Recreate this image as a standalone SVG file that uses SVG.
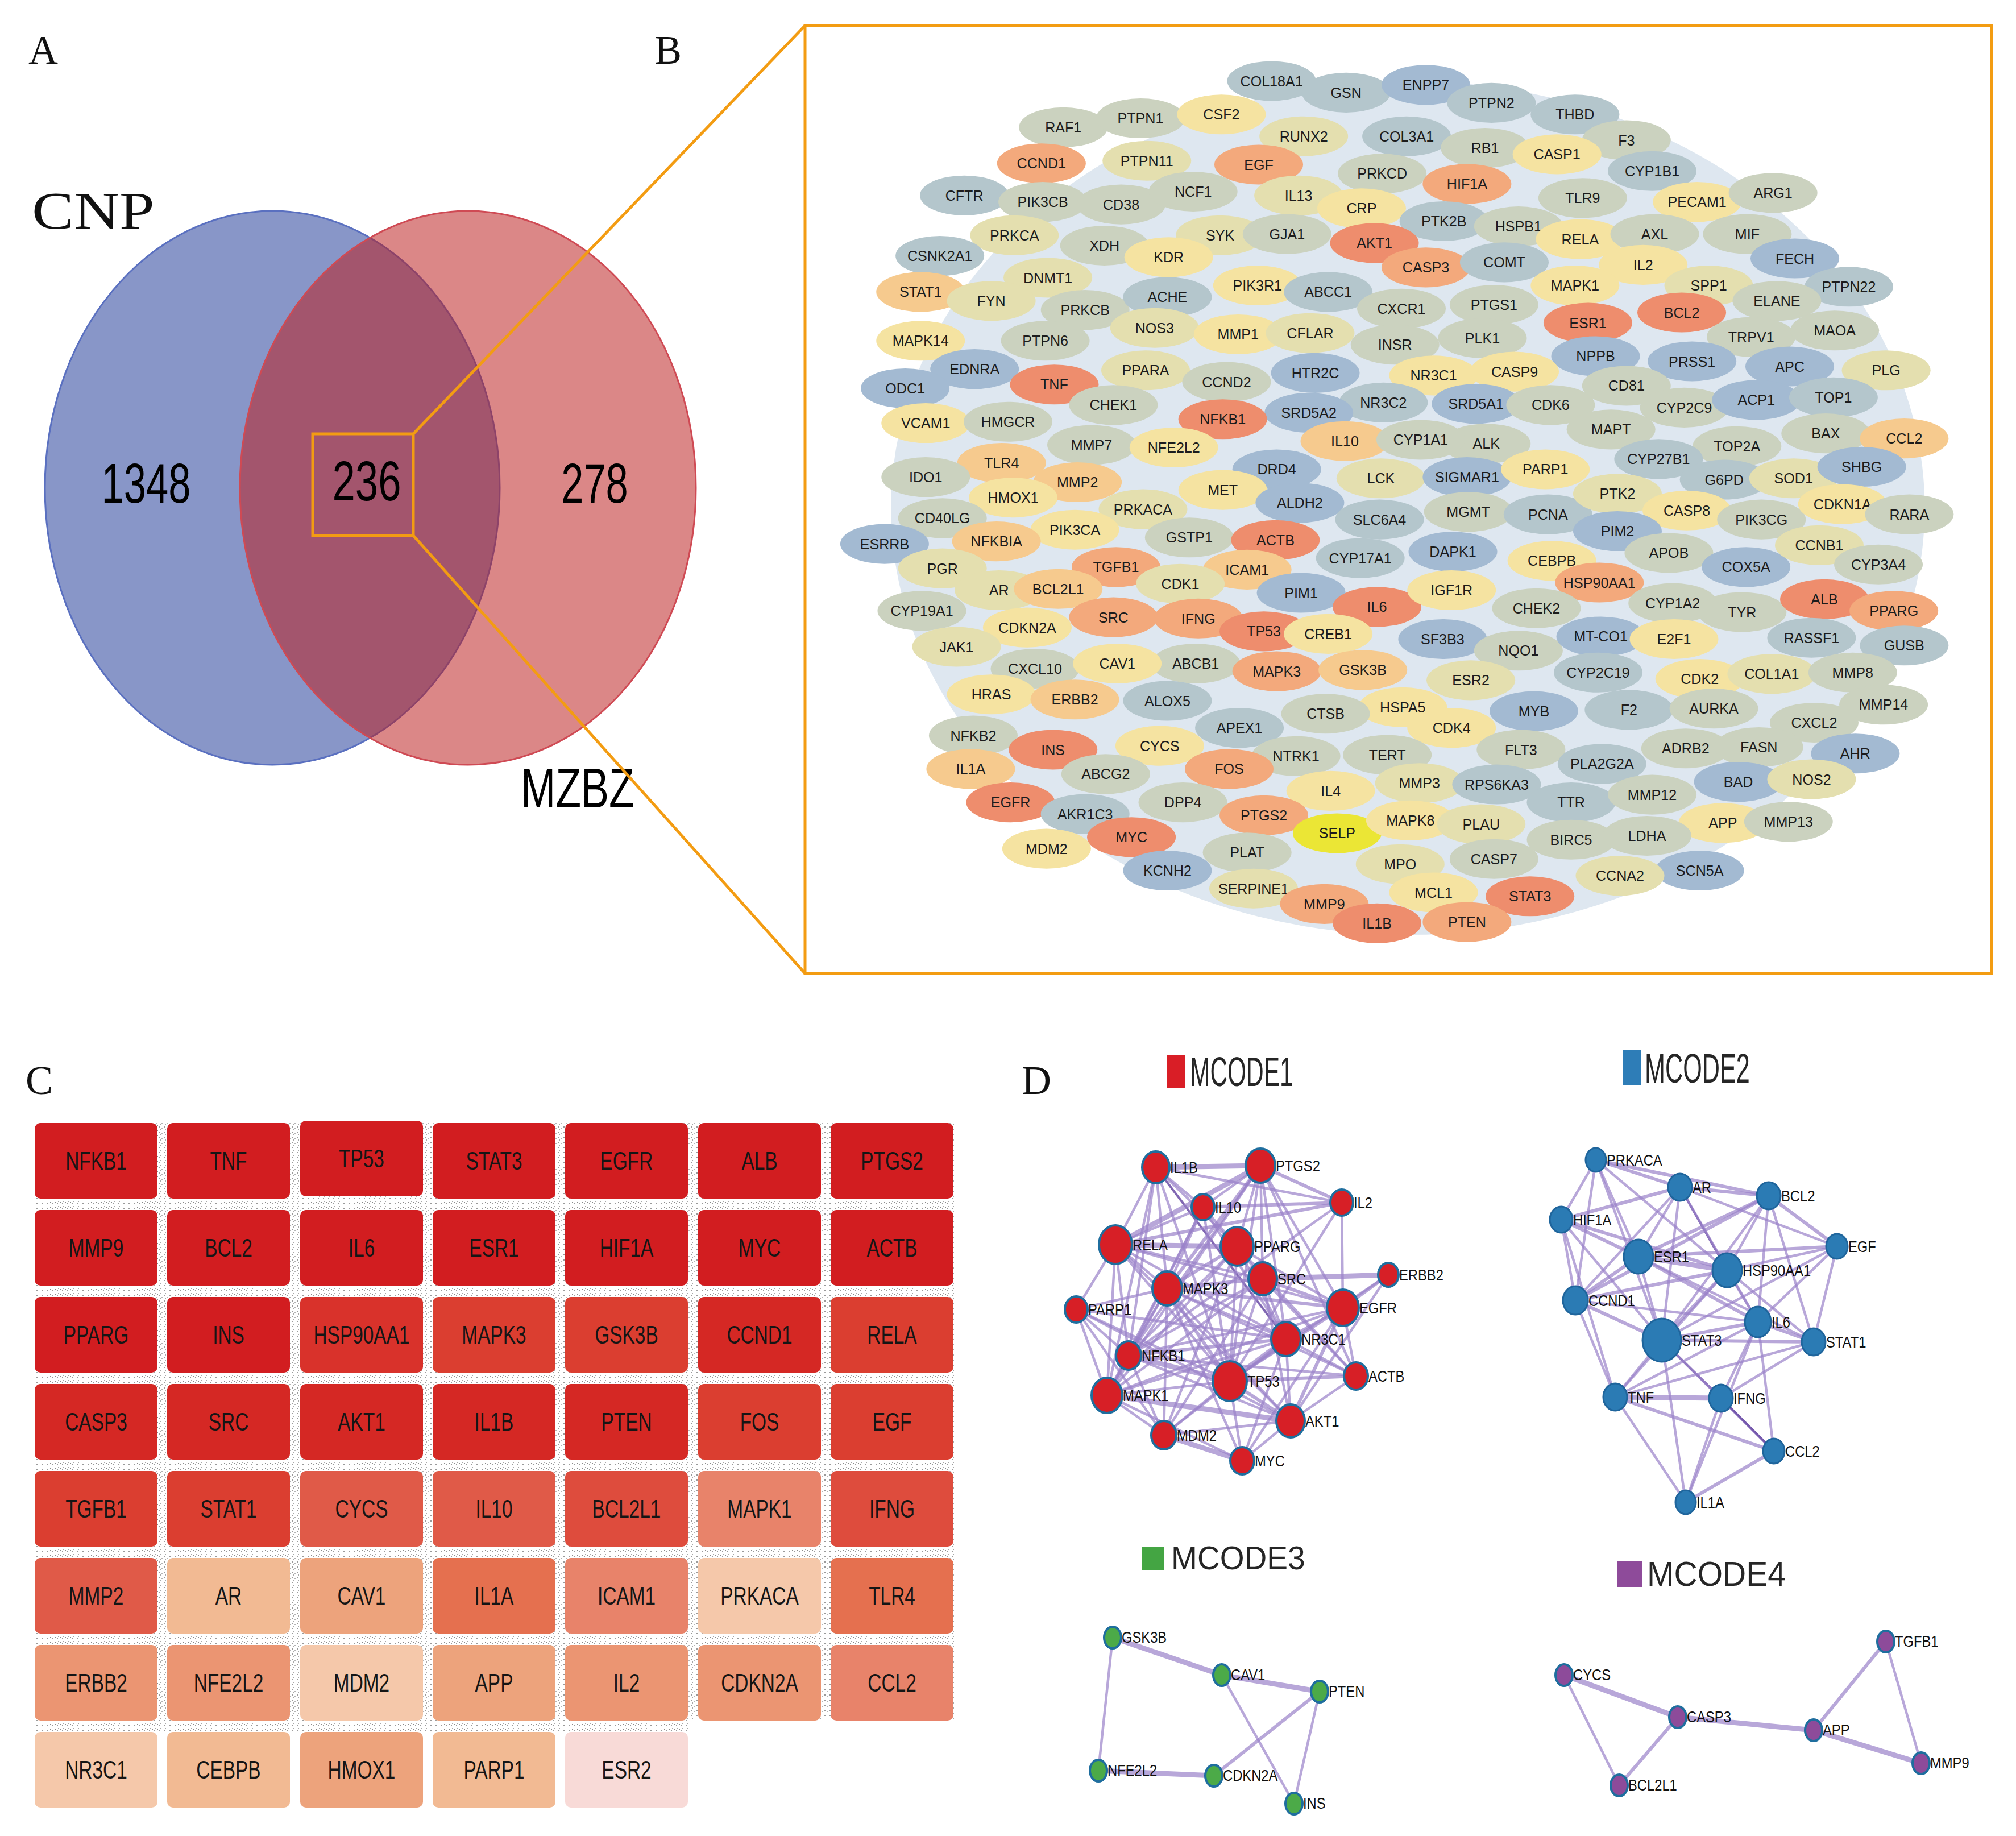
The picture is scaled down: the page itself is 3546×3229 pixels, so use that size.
<svg xmlns="http://www.w3.org/2000/svg" width="3546" height="3229" viewBox="0 0 3546 3229">
<style>
.lbl{font-family:'Liberation Serif','Times New Roman',serif;font-size:72px;fill:#111}
.vn{font-family:'Liberation Sans',Arial,sans-serif;font-size:98px;fill:#000;text-anchor:middle}
.c1{fill:#EE8D6D}.c2{fill:#F3A97C}.c3{fill:#F6CA8E}.c4{fill:#F5E3A1}.c5{fill:#E4DFAF}.c6{fill:#CBD2BF}.c7{fill:#B4C6CC}.c8{fill:#A3BAD2}.c9{fill:#EBE635}
.bt{font-family:'Liberation Sans',Arial,sans-serif;font-size:11.1px;text-anchor:middle;fill:#1c1c1c}
.or{stroke:#F39C12;stroke-width:5;fill:none}
.k1{fill:#D21D20}.k2{fill:#D52824}.k3{fill:#D9322B}.k4{fill:#DB3E30}.k5{fill:#DE4C3D}.k6{fill:#E05A48}.k7{fill:#E5704F}.k8{fill:#E8836A}.k9{fill:#EB9572}.k10{fill:#EDA37C}.k11{fill:#F2BA93}.k12{fill:#F5C8AA}.k13{fill:#F8DAD7}
.ct{font-family:'Liberation Sans',Arial,sans-serif;font-size:44px;text-anchor:middle;fill:#151515}
.mc{font-family:'Liberation Sans',Arial,sans-serif;fill:#262626}
.dl{font-family:'Liberation Sans',Arial,sans-serif;font-size:27px;fill:#111}
.e1{stroke:#9A82C9;stroke-width:4.5;stroke-opacity:.7;stroke-linecap:round}
.e2{stroke:#9A82C9;stroke-width:6;stroke-opacity:.7;stroke-linecap:round}
.e3{stroke:#9A82C9;stroke-width:9;stroke-opacity:.7;stroke-linecap:round}
.ed{stroke:#6A4BA5;stroke-width:4;stroke-opacity:.85;stroke-linecap:round}
.n1{fill:#D71F26;stroke:#1F6E9E;stroke-width:4}
.n2{fill:#2B7BB4;stroke:#1F659C;stroke-width:3}
.n3{fill:#4CAA48;stroke:#1F6E9E;stroke-width:4}
.n4{fill:#8D4B9A;stroke:#1F6E9E;stroke-width:4}
</style>
<defs>
<pattern id="spk" width="9" height="9" patternUnits="userSpaceOnUse">
<rect x="1" y="1" width="2" height="2" fill="#9a9a9a"/><rect x="5" y="4" width="2" height="1" fill="#b5b5b5"/><rect x="3" y="6" width="1" height="2" fill="#a8a8a8"/><rect x="7" y="8" width="1" height="1" fill="#8a8a8a"/>
</pattern>
</defs>
<rect width="3546" height="3229" fill="#fff"/>

<!-- Panel letters -->
<text class="lbl" x="50" y="112">A</text>
<text class="lbl" x="1151" y="112">B</text>
<text class="lbl" x="45" y="1924">C</text>
<text class="lbl" x="1797" y="1924">D</text>

<!-- Panel A: Venn -->
<g id="venn">
<ellipse id="set-CNP" cx="479" cy="858" rx="400" ry="487" fill="#8896C8" stroke="#5A70C0" stroke-width="3"/>
<ellipse id="set-MZBZ" cx="823" cy="858" rx="401" ry="487" fill="rgb(187,29,29)" fill-opacity="0.53" stroke="#CF4A54" stroke-width="3"/>
<text x="56" y="402" font-family="'Liberation Serif','Times New Roman',serif" font-size="94" fill="#111" transform="translate(56 402) scale(1.18 1) translate(-56 -402)">CNP</text>
<text class="vn" transform="translate(257 884) scale(0.72 1)">1348</text>
<text class="vn" transform="translate(645 880) scale(0.74 1)">236</text>
<text class="vn" transform="translate(1046 884) scale(0.72 1)">278</text>
<text class="vn" font-size="95" transform="translate(1016 1420) scale(0.75 1)">MZBZ</text>
<rect class="or" x="550" y="763" width="177" height="179"/>
</g>

<!-- zoom connectors -->
<g id="connectors-zoom">
<line class="or" x1="727" y1="763" x2="1416" y2="45"/>
<line class="or" x1="727" y1="942" x2="1416" y2="1712"/>
</g>

<!-- Panel B -->
<rect class="or" x="1416" y="45" width="2087" height="1667"/>
<g id="panelB" transform="scale(2.2615)">
<ellipse id="edge-cloud" cx="1095" cy="395" rx="402" ry="332" fill="#DEE7F0"/>
<g id="B_COL18A1"><ellipse class="c7" cx="989" cy="63" rx="34.5" ry="15.5"/><text class="bt" x="989" y="67">COL18A1</text></g>
<g id="B_GSN"><ellipse class="c7" cx="1047" cy="72" rx="34.5" ry="15.5"/><text class="bt" x="1047" y="76">GSN</text></g>
<g id="B_ENPP7"><ellipse class="c8" cx="1109" cy="66" rx="34.5" ry="15.5"/><text class="bt" x="1109" y="70">ENPP7</text></g>
<g id="B_PTPN2"><ellipse class="c7" cx="1160" cy="80" rx="34.5" ry="15.5"/><text class="bt" x="1160" y="84">PTPN2</text></g>
<g id="B_THBD"><ellipse class="c7" cx="1225" cy="89" rx="34.5" ry="15.5"/><text class="bt" x="1225" y="93">THBD</text></g>
<g id="B_F3"><ellipse class="c6" cx="1265" cy="109" rx="34.5" ry="15.5"/><text class="bt" x="1265" y="113">F3</text></g>
<g id="B_RAF1"><ellipse class="c6" cx="827" cy="99" rx="34.5" ry="15.5"/><text class="bt" x="827" y="103">RAF1</text></g>
<g id="B_PTPN1"><ellipse class="c6" cx="887" cy="92" rx="34.5" ry="15.5"/><text class="bt" x="887" y="96">PTPN1</text></g>
<g id="B_CSF2"><ellipse class="c4" cx="950" cy="89" rx="34.5" ry="15.5"/><text class="bt" x="950" y="93">CSF2</text></g>
<g id="B_RUNX2"><ellipse class="c5" cx="1014" cy="106" rx="34.5" ry="15.5"/><text class="bt" x="1014" y="110">RUNX2</text></g>
<g id="B_COL3A1"><ellipse class="c7" cx="1094" cy="106" rx="34.5" ry="15.5"/><text class="bt" x="1094" y="110">COL3A1</text></g>
<g id="B_RB1"><ellipse class="c6" cx="1155" cy="115" rx="34.5" ry="15.5"/><text class="bt" x="1155" y="119">RB1</text></g>
<g id="B_CASP1"><ellipse class="c4" cx="1211" cy="120" rx="34.5" ry="15.5"/><text class="bt" x="1211" y="124">CASP1</text></g>
<g id="B_CYP1B1"><ellipse class="c7" cx="1285" cy="133" rx="34.5" ry="15.5"/><text class="bt" x="1285" y="137">CYP1B1</text></g>
<g id="B_CCND1"><ellipse class="c2" cx="810" cy="127" rx="34.5" ry="15.5"/><text class="bt" x="810" y="131">CCND1</text></g>
<g id="B_PTPN11"><ellipse class="c5" cx="892" cy="125" rx="34.5" ry="15.5"/><text class="bt" x="892" y="129">PTPN11</text></g>
<g id="B_EGF"><ellipse class="c2" cx="979" cy="128" rx="34.5" ry="15.5"/><text class="bt" x="979" y="132">EGF</text></g>
<g id="B_PRKCD"><ellipse class="c6" cx="1075" cy="135" rx="34.5" ry="15.5"/><text class="bt" x="1075" y="139">PRKCD</text></g>
<g id="B_HIF1A"><ellipse class="c2" cx="1141" cy="143" rx="34.5" ry="15.5"/><text class="bt" x="1141" y="147">HIF1A</text></g>
<g id="B_CFTR"><ellipse class="c7" cx="750" cy="152" rx="34.5" ry="15.5"/><text class="bt" x="750" y="156">CFTR</text></g>
<g id="B_PIK3CB"><ellipse class="c6" cx="811" cy="157" rx="34.5" ry="15.5"/><text class="bt" x="811" y="161">PIK3CB</text></g>
<g id="B_CD38"><ellipse class="c6" cx="872" cy="159" rx="34.5" ry="15.5"/><text class="bt" x="872" y="163">CD38</text></g>
<g id="B_NCF1"><ellipse class="c6" cx="928" cy="149" rx="34.5" ry="15.5"/><text class="bt" x="928" y="153">NCF1</text></g>
<g id="B_IL13"><ellipse class="c5" cx="1010" cy="152" rx="34.5" ry="15.5"/><text class="bt" x="1010" y="156">IL13</text></g>
<g id="B_CRP"><ellipse class="c4" cx="1059" cy="162" rx="34.5" ry="15.5"/><text class="bt" x="1059" y="166">CRP</text></g>
<g id="B_TLR9"><ellipse class="c6" cx="1231" cy="154" rx="34.5" ry="15.5"/><text class="bt" x="1231" y="158">TLR9</text></g>
<g id="B_PECAM1"><ellipse class="c4" cx="1320" cy="157" rx="34.5" ry="15.5"/><text class="bt" x="1320" y="161">PECAM1</text></g>
<g id="B_ARG1"><ellipse class="c6" cx="1379" cy="150" rx="34.5" ry="15.5"/><text class="bt" x="1379" y="154">ARG1</text></g>
<g id="B_PRKCA"><ellipse class="c5" cx="789" cy="183" rx="34.5" ry="15.5"/><text class="bt" x="789" y="187">PRKCA</text></g>
<g id="B_XDH"><ellipse class="c6" cx="859" cy="191" rx="34.5" ry="15.5"/><text class="bt" x="859" y="195">XDH</text></g>
<g id="B_SYK"><ellipse class="c5" cx="949" cy="183" rx="34.5" ry="15.5"/><text class="bt" x="949" y="187">SYK</text></g>
<g id="B_GJA1"><ellipse class="c6" cx="1001" cy="182" rx="34.5" ry="15.5"/><text class="bt" x="1001" y="186">GJA1</text></g>
<g id="B_PTK2B"><ellipse class="c7" cx="1123" cy="172" rx="34.5" ry="15.5"/><text class="bt" x="1123" y="176">PTK2B</text></g>
<g id="B_HSPB1"><ellipse class="c6" cx="1181" cy="176" rx="34.5" ry="15.5"/><text class="bt" x="1181" y="180">HSPB1</text></g>
<g id="B_AKT1"><ellipse class="c1" cx="1069" cy="189" rx="34.5" ry="15.5"/><text class="bt" x="1069" y="193">AKT1</text></g>
<g id="B_RELA"><ellipse class="c4" cx="1229" cy="186" rx="34.5" ry="15.5"/><text class="bt" x="1229" y="190">RELA</text></g>
<g id="B_AXL"><ellipse class="c6" cx="1287" cy="182" rx="34.5" ry="15.5"/><text class="bt" x="1287" y="186">AXL</text></g>
<g id="B_MIF"><ellipse class="c6" cx="1359" cy="182" rx="34.5" ry="15.5"/><text class="bt" x="1359" y="186">MIF</text></g>
<g id="B_CSNK2A1"><ellipse class="c7" cx="731" cy="199" rx="34.5" ry="15.5"/><text class="bt" x="731" y="203">CSNK2A1</text></g>
<g id="B_KDR"><ellipse class="c4" cx="909" cy="200" rx="34.5" ry="15.5"/><text class="bt" x="909" y="204">KDR</text></g>
<g id="B_CASP3"><ellipse class="c2" cx="1109" cy="208" rx="34.5" ry="15.5"/><text class="bt" x="1109" y="212">CASP3</text></g>
<g id="B_COMT"><ellipse class="c7" cx="1170" cy="204" rx="34.5" ry="15.5"/><text class="bt" x="1170" y="208">COMT</text></g>
<g id="B_FECH"><ellipse class="c8" cx="1396" cy="201" rx="34.5" ry="15.5"/><text class="bt" x="1396" y="205">FECH</text></g>
<g id="B_IL2"><ellipse class="c4" cx="1278" cy="206" rx="34.5" ry="15.5"/><text class="bt" x="1278" y="210">IL2</text></g>
<g id="B_DNMT1"><ellipse class="c5" cx="815" cy="216" rx="34.5" ry="15.5"/><text class="bt" x="815" y="220">DNMT1</text></g>
<g id="B_PIK3R1"><ellipse class="c4" cx="978" cy="222" rx="34.5" ry="15.5"/><text class="bt" x="978" y="226">PIK3R1</text></g>
<g id="B_ABCC1"><ellipse class="c7" cx="1033" cy="227" rx="34.5" ry="15.5"/><text class="bt" x="1033" y="231">ABCC1</text></g>
<g id="B_MAPK1"><ellipse class="c4" cx="1225" cy="222" rx="34.5" ry="15.5"/><text class="bt" x="1225" y="226">MAPK1</text></g>
<g id="B_SPP1"><ellipse class="c5" cx="1329" cy="222" rx="34.5" ry="15.5"/><text class="bt" x="1329" y="226">SPP1</text></g>
<g id="B_PTPN22"><ellipse class="c7" cx="1438" cy="223" rx="34.5" ry="15.5"/><text class="bt" x="1438" y="227">PTPN22</text></g>
<g id="B_CXCR1"><ellipse class="c6" cx="1090" cy="240" rx="34.5" ry="15.5"/><text class="bt" x="1090" y="244">CXCR1</text></g>
<g id="B_PTGS1"><ellipse class="c6" cx="1162" cy="237" rx="34.5" ry="15.5"/><text class="bt" x="1162" y="241">PTGS1</text></g>
<g id="B_STAT1"><ellipse class="c3" cx="716" cy="227" rx="34.5" ry="15.5"/><text class="bt" x="716" y="231">STAT1</text></g>
<g id="B_FYN"><ellipse class="c5" cx="771" cy="234" rx="34.5" ry="15.5"/><text class="bt" x="771" y="238">FYN</text></g>
<g id="B_PRKCB"><ellipse class="c6" cx="844" cy="241" rx="34.5" ry="15.5"/><text class="bt" x="844" y="245">PRKCB</text></g>
<g id="B_ACHE"><ellipse class="c7" cx="908" cy="231" rx="34.5" ry="15.5"/><text class="bt" x="908" y="235">ACHE</text></g>
<g id="B_ESR1"><ellipse class="c1" cx="1235" cy="251" rx="34.5" ry="15.5"/><text class="bt" x="1235" y="255">ESR1</text></g>
<g id="B_BCL2"><ellipse class="c1" cx="1308" cy="243" rx="34.5" ry="15.5"/><text class="bt" x="1308" y="247">BCL2</text></g>
<g id="B_ELANE"><ellipse class="c6" cx="1382" cy="234" rx="34.5" ry="15.5"/><text class="bt" x="1382" y="238">ELANE</text></g>
<g id="B_MAPK14"><ellipse class="c4" cx="716" cy="265" rx="34.5" ry="15.5"/><text class="bt" x="716" y="269">MAPK14</text></g>
<g id="B_PTPN6"><ellipse class="c6" cx="813" cy="265" rx="34.5" ry="15.5"/><text class="bt" x="813" y="269">PTPN6</text></g>
<g id="B_NOS3"><ellipse class="c5" cx="898" cy="255" rx="34.5" ry="15.5"/><text class="bt" x="898" y="259">NOS3</text></g>
<g id="B_MMP1"><ellipse class="c4" cx="963" cy="260" rx="34.5" ry="15.5"/><text class="bt" x="963" y="264">MMP1</text></g>
<g id="B_CFLAR"><ellipse class="c5" cx="1019" cy="259" rx="34.5" ry="15.5"/><text class="bt" x="1019" y="263">CFLAR</text></g>
<g id="B_INSR"><ellipse class="c6" cx="1085" cy="268" rx="34.5" ry="15.5"/><text class="bt" x="1085" y="272">INSR</text></g>
<g id="B_PLK1"><ellipse class="c6" cx="1153" cy="263" rx="34.5" ry="15.5"/><text class="bt" x="1153" y="267">PLK1</text></g>
<g id="B_NPPB"><ellipse class="c8" cx="1241" cy="277" rx="34.5" ry="15.5"/><text class="bt" x="1241" y="281">NPPB</text></g>
<g id="B_TRPV1"><ellipse class="c6" cx="1362" cy="262" rx="34.5" ry="15.5"/><text class="bt" x="1362" y="266">TRPV1</text></g>
<g id="B_MAOA"><ellipse class="c6" cx="1427" cy="257" rx="34.5" ry="15.5"/><text class="bt" x="1427" y="261">MAOA</text></g>
<g id="B_EDNRA"><ellipse class="c8" cx="758" cy="287" rx="34.5" ry="15.5"/><text class="bt" x="758" y="291">EDNRA</text></g>
<g id="B_ODC1"><ellipse class="c8" cx="704" cy="302" rx="34.5" ry="15.5"/><text class="bt" x="704" y="306">ODC1</text></g>
<g id="B_TNF"><ellipse class="c1" cx="820" cy="299" rx="34.5" ry="15.5"/><text class="bt" x="820" y="303">TNF</text></g>
<g id="B_PPARA"><ellipse class="c5" cx="891" cy="288" rx="34.5" ry="15.5"/><text class="bt" x="891" y="292">PPARA</text></g>
<g id="B_HTR2C"><ellipse class="c8" cx="1023" cy="290" rx="34.5" ry="15.5"/><text class="bt" x="1023" y="294">HTR2C</text></g>
<g id="B_NR3C1"><ellipse class="c4" cx="1115" cy="292" rx="34.5" ry="15.5"/><text class="bt" x="1115" y="296">NR3C1</text></g>
<g id="B_CASP9"><ellipse class="c4" cx="1178" cy="289" rx="34.5" ry="15.5"/><text class="bt" x="1178" y="293">CASP9</text></g>
<g id="B_PRSS1"><ellipse class="c8" cx="1316" cy="281" rx="34.5" ry="15.5"/><text class="bt" x="1316" y="285">PRSS1</text></g>
<g id="B_APC"><ellipse class="c8" cx="1392" cy="285" rx="34.5" ry="15.5"/><text class="bt" x="1392" y="289">APC</text></g>
<g id="B_PLG"><ellipse class="c5" cx="1467" cy="288" rx="34.5" ry="15.5"/><text class="bt" x="1467" y="292">PLG</text></g>
<g id="B_CD81"><ellipse class="c6" cx="1265" cy="300" rx="34.5" ry="15.5"/><text class="bt" x="1265" y="304">CD81</text></g>
<g id="B_CCND2"><ellipse class="c6" cx="954" cy="297" rx="34.5" ry="15.5"/><text class="bt" x="954" y="301">CCND2</text></g>
<g id="B_VCAM1"><ellipse class="c4" cx="720" cy="329" rx="34.5" ry="15.5"/><text class="bt" x="720" y="333">VCAM1</text></g>
<g id="B_HMGCR"><ellipse class="c6" cx="784" cy="328" rx="34.5" ry="15.5"/><text class="bt" x="784" y="332">HMGCR</text></g>
<g id="B_CHEK1"><ellipse class="c6" cx="866" cy="315" rx="34.5" ry="15.5"/><text class="bt" x="866" y="319">CHEK1</text></g>
<g id="B_NR3C2"><ellipse class="c7" cx="1076" cy="313" rx="34.5" ry="15.5"/><text class="bt" x="1076" y="317">NR3C2</text></g>
<g id="B_SRD5A1"><ellipse class="c8" cx="1148" cy="314" rx="34.5" ry="15.5"/><text class="bt" x="1148" y="318">SRD5A1</text></g>
<g id="B_CDK6"><ellipse class="c6" cx="1206" cy="315" rx="34.5" ry="15.5"/><text class="bt" x="1206" y="319">CDK6</text></g>
<g id="B_SRD5A2"><ellipse class="c8" cx="1018" cy="321" rx="34.5" ry="15.5"/><text class="bt" x="1018" y="325">SRD5A2</text></g>
<g id="B_NFKB1"><ellipse class="c1" cx="951" cy="326" rx="34.5" ry="15.5"/><text class="bt" x="951" y="330">NFKB1</text></g>
<g id="B_CYP2C9"><ellipse class="c6" cx="1310" cy="317" rx="34.5" ry="15.5"/><text class="bt" x="1310" y="321">CYP2C9</text></g>
<g id="B_ACP1"><ellipse class="c8" cx="1366" cy="311" rx="34.5" ry="15.5"/><text class="bt" x="1366" y="315">ACP1</text></g>
<g id="B_TOP1"><ellipse class="c7" cx="1426" cy="309" rx="34.5" ry="15.5"/><text class="bt" x="1426" y="313">TOP1</text></g>
<g id="B_MMP7"><ellipse class="c6" cx="849" cy="346" rx="34.5" ry="15.5"/><text class="bt" x="849" y="350">MMP7</text></g>
<g id="B_NFE2L2"><ellipse class="c4" cx="913" cy="348" rx="34.5" ry="15.5"/><text class="bt" x="913" y="352">NFE2L2</text></g>
<g id="B_ALK"><ellipse class="c6" cx="1156" cy="345" rx="34.5" ry="15.5"/><text class="bt" x="1156" y="349">ALK</text></g>
<g id="B_IL10"><ellipse class="c3" cx="1046" cy="343" rx="34.5" ry="15.5"/><text class="bt" x="1046" y="347">IL10</text></g>
<g id="B_CYP1A1"><ellipse class="c6" cx="1105" cy="342" rx="34.5" ry="15.5"/><text class="bt" x="1105" y="346">CYP1A1</text></g>
<g id="B_MAPT"><ellipse class="c6" cx="1253" cy="334" rx="34.5" ry="15.5"/><text class="bt" x="1253" y="338">MAPT</text></g>
<g id="B_BAX"><ellipse class="c6" cx="1420" cy="337" rx="34.5" ry="15.5"/><text class="bt" x="1420" y="341">BAX</text></g>
<g id="B_CCL2"><ellipse class="c3" cx="1481" cy="341" rx="34.5" ry="15.5"/><text class="bt" x="1481" y="345">CCL2</text></g>
<g id="B_TOP2A"><ellipse class="c6" cx="1351" cy="347" rx="34.5" ry="15.5"/><text class="bt" x="1351" y="351">TOP2A</text></g>
<g id="B_TLR4"><ellipse class="c3" cx="779" cy="360" rx="34.5" ry="15.5"/><text class="bt" x="779" y="364">TLR4</text></g>
<g id="B_IDO1"><ellipse class="c6" cx="720" cy="371" rx="34.5" ry="15.5"/><text class="bt" x="720" y="375">IDO1</text></g>
<g id="B_MMP2"><ellipse class="c3" cx="838" cy="375" rx="34.5" ry="15.5"/><text class="bt" x="838" y="379">MMP2</text></g>
<g id="B_DRD4"><ellipse class="c8" cx="993" cy="365" rx="34.5" ry="15.5"/><text class="bt" x="993" y="369">DRD4</text></g>
<g id="B_MET"><ellipse class="c4" cx="951" cy="381" rx="34.5" ry="15.5"/><text class="bt" x="951" y="385">MET</text></g>
<g id="B_LCK"><ellipse class="c5" cx="1074" cy="372" rx="34.5" ry="15.5"/><text class="bt" x="1074" y="376">LCK</text></g>
<g id="B_SIGMAR1"><ellipse class="c8" cx="1141" cy="371" rx="34.5" ry="15.5"/><text class="bt" x="1141" y="375">SIGMAR1</text></g>
<g id="B_PARP1"><ellipse class="c4" cx="1202" cy="365" rx="34.5" ry="15.5"/><text class="bt" x="1202" y="369">PARP1</text></g>
<g id="B_CYP27B1"><ellipse class="c7" cx="1290" cy="357" rx="34.5" ry="15.5"/><text class="bt" x="1290" y="361">CYP27B1</text></g>
<g id="B_G6PD"><ellipse class="c7" cx="1341" cy="373" rx="34.5" ry="15.5"/><text class="bt" x="1341" y="377">G6PD</text></g>
<g id="B_SOD1"><ellipse class="c5" cx="1395" cy="372" rx="34.5" ry="15.5"/><text class="bt" x="1395" y="376">SOD1</text></g>
<g id="B_SHBG"><ellipse class="c8" cx="1448" cy="363" rx="34.5" ry="15.5"/><text class="bt" x="1448" y="367">SHBG</text></g>
<g id="B_HMOX1"><ellipse class="c4" cx="788" cy="387" rx="34.5" ry="15.5"/><text class="bt" x="788" y="391">HMOX1</text></g>
<g id="B_PRKACA"><ellipse class="c5" cx="889" cy="396" rx="34.5" ry="15.5"/><text class="bt" x="889" y="400">PRKACA</text></g>
<g id="B_ALDH2"><ellipse class="c8" cx="1011" cy="391" rx="34.5" ry="15.5"/><text class="bt" x="1011" y="395">ALDH2</text></g>
<g id="B_SLC6A4"><ellipse class="c7" cx="1073" cy="404" rx="34.5" ry="15.5"/><text class="bt" x="1073" y="408">SLC6A4</text></g>
<g id="B_MGMT"><ellipse class="c6" cx="1142" cy="398" rx="34.5" ry="15.5"/><text class="bt" x="1142" y="402">MGMT</text></g>
<g id="B_PCNA"><ellipse class="c7" cx="1204" cy="400" rx="34.5" ry="15.5"/><text class="bt" x="1204" y="404">PCNA</text></g>
<g id="B_PTK2"><ellipse class="c5" cx="1258" cy="384" rx="34.5" ry="15.5"/><text class="bt" x="1258" y="388">PTK2</text></g>
<g id="B_CASP8"><ellipse class="c4" cx="1312" cy="397" rx="34.5" ry="15.5"/><text class="bt" x="1312" y="401">CASP8</text></g>
<g id="B_PIK3CG"><ellipse class="c6" cx="1370" cy="404" rx="34.5" ry="15.5"/><text class="bt" x="1370" y="408">PIK3CG</text></g>
<g id="B_CDKN1A"><ellipse class="c4" cx="1433" cy="392" rx="34.5" ry="15.5"/><text class="bt" x="1433" y="396">CDKN1A</text></g>
<g id="B_RARA"><ellipse class="c6" cx="1485" cy="400" rx="34.5" ry="15.5"/><text class="bt" x="1485" y="404">RARA</text></g>
<g id="B_CD40LG"><ellipse class="c6" cx="733" cy="403" rx="34.5" ry="15.5"/><text class="bt" x="733" y="407">CD40LG</text></g>
<g id="B_PIK3CA"><ellipse class="c4" cx="836" cy="412" rx="34.5" ry="15.5"/><text class="bt" x="836" y="416">PIK3CA</text></g>
<g id="B_ESRRB"><ellipse class="c8" cx="688" cy="423" rx="34.5" ry="15.5"/><text class="bt" x="688" y="427">ESRRB</text></g>
<g id="B_NFKBIA"><ellipse class="c3" cx="775" cy="421" rx="34.5" ry="15.5"/><text class="bt" x="775" y="425">NFKBIA</text></g>
<g id="B_GSTP1"><ellipse class="c6" cx="925" cy="418" rx="34.5" ry="15.5"/><text class="bt" x="925" y="422">GSTP1</text></g>
<g id="B_ACTB"><ellipse class="c1" cx="992" cy="420" rx="34.5" ry="15.5"/><text class="bt" x="992" y="424">ACTB</text></g>
<g id="B_PIM2"><ellipse class="c8" cx="1258" cy="413" rx="34.5" ry="15.5"/><text class="bt" x="1258" y="417">PIM2</text></g>
<g id="B_APOB"><ellipse class="c6" cx="1298" cy="430" rx="34.5" ry="15.5"/><text class="bt" x="1298" y="434">APOB</text></g>
<g id="B_COX5A"><ellipse class="c8" cx="1358" cy="441" rx="34.5" ry="15.5"/><text class="bt" x="1358" y="445">COX5A</text></g>
<g id="B_CCNB1"><ellipse class="c5" cx="1415" cy="424" rx="34.5" ry="15.5"/><text class="bt" x="1415" y="428">CCNB1</text></g>
<g id="B_CYP3A4"><ellipse class="c6" cx="1461" cy="439" rx="34.5" ry="15.5"/><text class="bt" x="1461" y="443">CYP3A4</text></g>
<g id="B_PGR"><ellipse class="c5" cx="733" cy="442" rx="34.5" ry="15.5"/><text class="bt" x="733" y="446">PGR</text></g>
<g id="B_TGFB1"><ellipse class="c2" cx="868" cy="441" rx="34.5" ry="15.5"/><text class="bt" x="868" y="445">TGFB1</text></g>
<g id="B_ICAM1"><ellipse class="c3" cx="970" cy="443" rx="34.5" ry="15.5"/><text class="bt" x="970" y="447">ICAM1</text></g>
<g id="B_CYP17A1"><ellipse class="c7" cx="1058" cy="434" rx="34.5" ry="15.5"/><text class="bt" x="1058" y="438">CYP17A1</text></g>
<g id="B_DAPK1"><ellipse class="c8" cx="1130" cy="429" rx="34.5" ry="15.5"/><text class="bt" x="1130" y="433">DAPK1</text></g>
<g id="B_CEBPB"><ellipse class="c4" cx="1207" cy="436" rx="34.5" ry="15.5"/><text class="bt" x="1207" y="440">CEBPB</text></g>
<g id="B_HSP90AA1"><ellipse class="c2" cx="1244" cy="453" rx="34.5" ry="15.5"/><text class="bt" x="1244" y="457">HSP90AA1</text></g>
<g id="B_AR"><ellipse class="c5" cx="777" cy="459" rx="34.5" ry="15.5"/><text class="bt" x="777" y="463">AR</text></g>
<g id="B_BCL2L1"><ellipse class="c3" cx="823" cy="458" rx="34.5" ry="15.5"/><text class="bt" x="823" y="462">BCL2L1</text></g>
<g id="B_CDK1"><ellipse class="c5" cx="918" cy="454" rx="34.5" ry="15.5"/><text class="bt" x="918" y="458">CDK1</text></g>
<g id="B_PIM1"><ellipse class="c8" cx="1012" cy="461" rx="34.5" ry="15.5"/><text class="bt" x="1012" y="465">PIM1</text></g>
<g id="B_IL6"><ellipse class="c1" cx="1071" cy="472" rx="34.5" ry="15.5"/><text class="bt" x="1071" y="476">IL6</text></g>
<g id="B_IGF1R"><ellipse class="c4" cx="1129" cy="459" rx="34.5" ry="15.5"/><text class="bt" x="1129" y="463">IGF1R</text></g>
<g id="B_CHEK2"><ellipse class="c6" cx="1195" cy="473" rx="34.5" ry="15.5"/><text class="bt" x="1195" y="477">CHEK2</text></g>
<g id="B_CYP1A2"><ellipse class="c6" cx="1301" cy="469" rx="34.5" ry="15.5"/><text class="bt" x="1301" y="473">CYP1A2</text></g>
<g id="B_TYR"><ellipse class="c6" cx="1355" cy="476" rx="34.5" ry="15.5"/><text class="bt" x="1355" y="480">TYR</text></g>
<g id="B_ALB"><ellipse class="c1" cx="1419" cy="466" rx="34.5" ry="15.5"/><text class="bt" x="1419" y="470">ALB</text></g>
<g id="B_PPARG"><ellipse class="c2" cx="1473" cy="475" rx="34.5" ry="15.5"/><text class="bt" x="1473" y="479">PPARG</text></g>
<g id="B_CYP19A1"><ellipse class="c6" cx="717" cy="475" rx="34.5" ry="15.5"/><text class="bt" x="717" y="479">CYP19A1</text></g>
<g id="B_SRC"><ellipse class="c2" cx="866" cy="480" rx="34.5" ry="15.5"/><text class="bt" x="866" y="484">SRC</text></g>
<g id="B_IFNG"><ellipse class="c2" cx="932" cy="481" rx="34.5" ry="15.5"/><text class="bt" x="932" y="485">IFNG</text></g>
<g id="B_TP53"><ellipse class="c1" cx="983" cy="491" rx="34.5" ry="15.5"/><text class="bt" x="983" y="495">TP53</text></g>
<g id="B_CREB1"><ellipse class="c4" cx="1033" cy="493" rx="34.5" ry="15.5"/><text class="bt" x="1033" y="497">CREB1</text></g>
<g id="B_SF3B3"><ellipse class="c8" cx="1122" cy="497" rx="34.5" ry="15.5"/><text class="bt" x="1122" y="501">SF3B3</text></g>
<g id="B_NQO1"><ellipse class="c6" cx="1181" cy="506" rx="34.5" ry="15.5"/><text class="bt" x="1181" y="510">NQO1</text></g>
<g id="B_MT-CO1"><ellipse class="c8" cx="1245" cy="495" rx="34.5" ry="15.5"/><text class="bt" x="1245" y="499">MT-CO1</text></g>
<g id="B_E2F1"><ellipse class="c4" cx="1302" cy="497" rx="34.5" ry="15.5"/><text class="bt" x="1302" y="501">E2F1</text></g>
<g id="B_RASSF1"><ellipse class="c7" cx="1409" cy="496" rx="34.5" ry="15.5"/><text class="bt" x="1409" y="500">RASSF1</text></g>
<g id="B_GUSB"><ellipse class="c7" cx="1481" cy="502" rx="34.5" ry="15.5"/><text class="bt" x="1481" y="506">GUSB</text></g>
<g id="B_CDKN2A"><ellipse class="c4" cx="799" cy="488" rx="34.5" ry="15.5"/><text class="bt" x="799" y="492">CDKN2A</text></g>
<g id="B_JAK1"><ellipse class="c5" cx="744" cy="503" rx="34.5" ry="15.5"/><text class="bt" x="744" y="507">JAK1</text></g>
<g id="B_ABCB1"><ellipse class="c6" cx="930" cy="516" rx="34.5" ry="15.5"/><text class="bt" x="930" y="520">ABCB1</text></g>
<g id="B_MAPK3"><ellipse class="c2" cx="993" cy="522" rx="34.5" ry="15.5"/><text class="bt" x="993" y="526">MAPK3</text></g>
<g id="B_GSK3B"><ellipse class="c3" cx="1060" cy="521" rx="34.5" ry="15.5"/><text class="bt" x="1060" y="525">GSK3B</text></g>
<g id="B_ESR2"><ellipse class="c5" cx="1144" cy="529" rx="34.5" ry="15.5"/><text class="bt" x="1144" y="533">ESR2</text></g>
<g id="B_CYP2C19"><ellipse class="c7" cx="1243" cy="523" rx="34.5" ry="15.5"/><text class="bt" x="1243" y="527">CYP2C19</text></g>
<g id="B_CDK2"><ellipse class="c4" cx="1322" cy="528" rx="34.5" ry="15.5"/><text class="bt" x="1322" y="532">CDK2</text></g>
<g id="B_COL1A1"><ellipse class="c5" cx="1378" cy="524" rx="34.5" ry="15.5"/><text class="bt" x="1378" y="528">COL1A1</text></g>
<g id="B_MMP8"><ellipse class="c6" cx="1441" cy="523" rx="34.5" ry="15.5"/><text class="bt" x="1441" y="527">MMP8</text></g>
<g id="B_CXCL10"><ellipse class="c6" cx="805" cy="520" rx="34.5" ry="15.5"/><text class="bt" x="805" y="524">CXCL10</text></g>
<g id="B_CAV1"><ellipse class="c4" cx="869" cy="516" rx="34.5" ry="15.5"/><text class="bt" x="869" y="520">CAV1</text></g>
<g id="B_HRAS"><ellipse class="c4" cx="771" cy="540" rx="34.5" ry="15.5"/><text class="bt" x="771" y="544">HRAS</text></g>
<g id="B_ERBB2"><ellipse class="c3" cx="836" cy="544" rx="34.5" ry="15.5"/><text class="bt" x="836" y="548">ERBB2</text></g>
<g id="B_ALOX5"><ellipse class="c7" cx="908" cy="545" rx="34.5" ry="15.5"/><text class="bt" x="908" y="549">ALOX5</text></g>
<g id="B_HSPA5"><ellipse class="c4" cx="1091" cy="550" rx="34.5" ry="15.5"/><text class="bt" x="1091" y="554">HSPA5</text></g>
<g id="B_CTSB"><ellipse class="c6" cx="1031" cy="555" rx="34.5" ry="15.5"/><text class="bt" x="1031" y="559">CTSB</text></g>
<g id="B_MYB"><ellipse class="c8" cx="1193" cy="553" rx="34.5" ry="15.5"/><text class="bt" x="1193" y="557">MYB</text></g>
<g id="B_F2"><ellipse class="c7" cx="1267" cy="552" rx="34.5" ry="15.5"/><text class="bt" x="1267" y="556">F2</text></g>
<g id="B_AURKA"><ellipse class="c6" cx="1333" cy="551" rx="34.5" ry="15.5"/><text class="bt" x="1333" y="555">AURKA</text></g>
<g id="B_MMP14"><ellipse class="c6" cx="1465" cy="548" rx="34.5" ry="15.5"/><text class="bt" x="1465" y="552">MMP14</text></g>
<g id="B_CXCL2"><ellipse class="c6" cx="1411" cy="562" rx="34.5" ry="15.5"/><text class="bt" x="1411" y="566">CXCL2</text></g>
<g id="B_APEX1"><ellipse class="c7" cx="964" cy="566" rx="34.5" ry="15.5"/><text class="bt" x="964" y="570">APEX1</text></g>
<g id="B_CDK4"><ellipse class="c4" cx="1129" cy="566" rx="34.5" ry="15.5"/><text class="bt" x="1129" y="570">CDK4</text></g>
<g id="B_NFKB2"><ellipse class="c6" cx="757" cy="572" rx="34.5" ry="15.5"/><text class="bt" x="757" y="576">NFKB2</text></g>
<g id="B_INS"><ellipse class="c1" cx="819" cy="583" rx="34.5" ry="15.5"/><text class="bt" x="819" y="587">INS</text></g>
<g id="B_CYCS"><ellipse class="c4" cx="902" cy="580" rx="34.5" ry="15.5"/><text class="bt" x="902" y="584">CYCS</text></g>
<g id="B_NTRK1"><ellipse class="c6" cx="1008" cy="588" rx="34.5" ry="15.5"/><text class="bt" x="1008" y="592">NTRK1</text></g>
<g id="B_TERT"><ellipse class="c6" cx="1079" cy="587" rx="34.5" ry="15.5"/><text class="bt" x="1079" y="591">TERT</text></g>
<g id="B_FLT3"><ellipse class="c6" cx="1183" cy="583" rx="34.5" ry="15.5"/><text class="bt" x="1183" y="587">FLT3</text></g>
<g id="B_ADRB2"><ellipse class="c6" cx="1311" cy="582" rx="34.5" ry="15.5"/><text class="bt" x="1311" y="586">ADRB2</text></g>
<g id="B_FASN"><ellipse class="c6" cx="1368" cy="581" rx="34.5" ry="15.5"/><text class="bt" x="1368" y="585">FASN</text></g>
<g id="B_AHR"><ellipse class="c8" cx="1443" cy="586" rx="34.5" ry="15.5"/><text class="bt" x="1443" y="590">AHR</text></g>
<g id="B_IL1A"><ellipse class="c3" cx="755" cy="598" rx="34.5" ry="15.5"/><text class="bt" x="755" y="602">IL1A</text></g>
<g id="B_ABCG2"><ellipse class="c6" cx="860" cy="602" rx="34.5" ry="15.5"/><text class="bt" x="860" y="606">ABCG2</text></g>
<g id="B_FOS"><ellipse class="c2" cx="956" cy="598" rx="34.5" ry="15.5"/><text class="bt" x="956" y="602">FOS</text></g>
<g id="B_PLA2G2A"><ellipse class="c7" cx="1246" cy="594" rx="34.5" ry="15.5"/><text class="bt" x="1246" y="598">PLA2G2A</text></g>
<g id="B_IL4"><ellipse class="c4" cx="1035" cy="615" rx="34.5" ry="15.5"/><text class="bt" x="1035" y="619">IL4</text></g>
<g id="B_MMP3"><ellipse class="c5" cx="1104" cy="609" rx="34.5" ry="15.5"/><text class="bt" x="1104" y="613">MMP3</text></g>
<g id="B_RPS6KA3"><ellipse class="c7" cx="1164" cy="610" rx="34.5" ry="15.5"/><text class="bt" x="1164" y="614">RPS6KA3</text></g>
<g id="B_BAD"><ellipse class="c8" cx="1352" cy="608" rx="34.5" ry="15.5"/><text class="bt" x="1352" y="612">BAD</text></g>
<g id="B_NOS2"><ellipse class="c5" cx="1409" cy="606" rx="34.5" ry="15.5"/><text class="bt" x="1409" y="610">NOS2</text></g>
<g id="B_EGFR"><ellipse class="c1" cx="786" cy="624" rx="34.5" ry="15.5"/><text class="bt" x="786" y="628">EGFR</text></g>
<g id="B_AKR1C3"><ellipse class="c7" cx="844" cy="633" rx="34.5" ry="15.5"/><text class="bt" x="844" y="637">AKR1C3</text></g>
<g id="B_DPP4"><ellipse class="c6" cx="920" cy="624" rx="34.5" ry="15.5"/><text class="bt" x="920" y="628">DPP4</text></g>
<g id="B_PTGS2"><ellipse class="c2" cx="983" cy="634" rx="34.5" ry="15.5"/><text class="bt" x="983" y="638">PTGS2</text></g>
<g id="B_TTR"><ellipse class="c7" cx="1222" cy="624" rx="34.5" ry="15.5"/><text class="bt" x="1222" y="628">TTR</text></g>
<g id="B_MMP12"><ellipse class="c6" cx="1285" cy="618" rx="34.5" ry="15.5"/><text class="bt" x="1285" y="622">MMP12</text></g>
<g id="B_APP"><ellipse class="c4" cx="1340" cy="640" rx="34.5" ry="15.5"/><text class="bt" x="1340" y="644">APP</text></g>
<g id="B_MMP13"><ellipse class="c6" cx="1391" cy="639" rx="34.5" ry="15.5"/><text class="bt" x="1391" y="643">MMP13</text></g>
<g id="B_SELP"><ellipse class="c9" cx="1040" cy="648" rx="34.5" ry="15.5"/><text class="bt" x="1040" y="652">SELP</text></g>
<g id="B_MAPK8"><ellipse class="c4" cx="1097" cy="638" rx="34.5" ry="15.5"/><text class="bt" x="1097" y="642">MAPK8</text></g>
<g id="B_PLAU"><ellipse class="c5" cx="1152" cy="641" rx="34.5" ry="15.5"/><text class="bt" x="1152" y="645">PLAU</text></g>
<g id="B_BIRC5"><ellipse class="c6" cx="1222" cy="653" rx="34.5" ry="15.5"/><text class="bt" x="1222" y="657">BIRC5</text></g>
<g id="B_LDHA"><ellipse class="c6" cx="1281" cy="650" rx="34.5" ry="15.5"/><text class="bt" x="1281" y="654">LDHA</text></g>
<g id="B_MDM2"><ellipse class="c4" cx="814" cy="660" rx="34.5" ry="15.5"/><text class="bt" x="814" y="664">MDM2</text></g>
<g id="B_MYC"><ellipse class="c1" cx="880" cy="651" rx="34.5" ry="15.5"/><text class="bt" x="880" y="655">MYC</text></g>
<g id="B_PLAT"><ellipse class="c6" cx="970" cy="663" rx="34.5" ry="15.5"/><text class="bt" x="970" y="667">PLAT</text></g>
<g id="B_MPO"><ellipse class="c5" cx="1089" cy="672" rx="34.5" ry="15.5"/><text class="bt" x="1089" y="676">MPO</text></g>
<g id="B_CASP7"><ellipse class="c6" cx="1162" cy="668" rx="34.5" ry="15.5"/><text class="bt" x="1162" y="672">CASP7</text></g>
<g id="B_SCN5A"><ellipse class="c8" cx="1322" cy="677" rx="34.5" ry="15.5"/><text class="bt" x="1322" y="681">SCN5A</text></g>
<g id="B_CCNA2"><ellipse class="c5" cx="1260" cy="681" rx="34.5" ry="15.5"/><text class="bt" x="1260" y="685">CCNA2</text></g>
<g id="B_KCNH2"><ellipse class="c8" cx="908" cy="677" rx="34.5" ry="15.5"/><text class="bt" x="908" y="681">KCNH2</text></g>
<g id="B_SERPINE1"><ellipse class="c5" cx="975" cy="691" rx="34.5" ry="15.5"/><text class="bt" x="975" y="695">SERPINE1</text></g>
<g id="B_MCL1"><ellipse class="c4" cx="1115" cy="694" rx="34.5" ry="15.5"/><text class="bt" x="1115" y="698">MCL1</text></g>
<g id="B_STAT3"><ellipse class="c1" cx="1190" cy="697" rx="34.5" ry="15.5"/><text class="bt" x="1190" y="701">STAT3</text></g>
<g id="B_MMP9"><ellipse class="c2" cx="1030" cy="703" rx="34.5" ry="15.5"/><text class="bt" x="1030" y="707">MMP9</text></g>
<g id="B_IL1B"><ellipse class="c1" cx="1071" cy="718" rx="34.5" ry="15.5"/><text class="bt" x="1071" y="722">IL1B</text></g>
<g id="B_PTEN"><ellipse class="c2" cx="1141" cy="717" rx="34.5" ry="15.5"/><text class="bt" x="1141" y="721">PTEN</text></g>
</g>

<!-- Panel C -->
<g id="panelC">
<rect x="61" y="1975" width="1617" height="1050" fill="url(#spk)"/>
<rect x="61" y="3025" width="1151" height="21" fill="url(#spk)"/>
<g id="C_NFKB1"><rect class="k1" x="61" y="1975" width="216" height="133" rx="10"/><text class="ct" transform="translate(169 2057) scale(.76 1)">NFKB1</text></g>
<g id="C_TNF"><rect class="k1" x="294" y="1975" width="216" height="133" rx="10"/><text class="ct" transform="translate(402 2057) scale(.76 1)">TNF</text></g>
<g id="C_TP53"><rect class="k1" x="528" y="1971" width="216" height="133" rx="10"/><text class="ct" transform="translate(636 2053) scale(.76 1)">TP53</text></g>
<g id="C_STAT3"><rect class="k1" x="761" y="1975" width="216" height="133" rx="10"/><text class="ct" transform="translate(869 2057) scale(.76 1)">STAT3</text></g>
<g id="C_EGFR"><rect class="k1" x="994" y="1975" width="216" height="133" rx="10"/><text class="ct" transform="translate(1102 2057) scale(.76 1)">EGFR</text></g>
<g id="C_ALB"><rect class="k1" x="1228" y="1975" width="216" height="133" rx="10"/><text class="ct" transform="translate(1336 2057) scale(.76 1)">ALB</text></g>
<g id="C_PTGS2"><rect class="k1" x="1461" y="1975" width="216" height="133" rx="10"/><text class="ct" transform="translate(1569 2057) scale(.76 1)">PTGS2</text></g>

<g id="C_MMP9"><rect class="k1" x="61" y="2128" width="216" height="133" rx="10"/><text class="ct" transform="translate(169 2210) scale(.76 1)">MMP9</text></g>
<g id="C_BCL2"><rect class="k1" x="294" y="2128" width="216" height="133" rx="10"/><text class="ct" transform="translate(402 2210) scale(.76 1)">BCL2</text></g>
<g id="C_IL6"><rect class="k1" x="528" y="2128" width="216" height="133" rx="10"/><text class="ct" transform="translate(636 2210) scale(.76 1)">IL6</text></g>
<g id="C_ESR1"><rect class="k1" x="761" y="2128" width="216" height="133" rx="10"/><text class="ct" transform="translate(869 2210) scale(.76 1)">ESR1</text></g>
<g id="C_HIF1A"><rect class="k1" x="994" y="2128" width="216" height="133" rx="10"/><text class="ct" transform="translate(1102 2210) scale(.76 1)">HIF1A</text></g>
<g id="C_MYC"><rect class="k1" x="1228" y="2128" width="216" height="133" rx="10"/><text class="ct" transform="translate(1336 2210) scale(.76 1)">MYC</text></g>
<g id="C_ACTB"><rect class="k1" x="1461" y="2128" width="216" height="133" rx="10"/><text class="ct" transform="translate(1569 2210) scale(.76 1)">ACTB</text></g>

<g id="C_PPARG"><rect class="k1" x="61" y="2281" width="216" height="133" rx="10"/><text class="ct" transform="translate(169 2363) scale(.76 1)">PPARG</text></g>
<g id="C_INS"><rect class="k1" x="294" y="2281" width="216" height="133" rx="10"/><text class="ct" transform="translate(402 2363) scale(.76 1)">INS</text></g>
<g id="C_HSP90AA1"><rect class="k3" x="528" y="2281" width="216" height="133" rx="10"/><text class="ct" transform="translate(636 2363) scale(.76 1)">HSP90AA1</text></g>
<g id="C_MAPK3"><rect class="k4" x="761" y="2281" width="216" height="133" rx="10"/><text class="ct" transform="translate(869 2363) scale(.76 1)">MAPK3</text></g>
<g id="C_GSK3B"><rect class="k4" x="994" y="2281" width="216" height="133" rx="10"/><text class="ct" transform="translate(1102 2363) scale(.76 1)">GSK3B</text></g>
<g id="C_CCND1"><rect class="k2" x="1228" y="2281" width="216" height="133" rx="10"/><text class="ct" transform="translate(1336 2363) scale(.76 1)">CCND1</text></g>
<g id="C_RELA"><rect class="k4" x="1461" y="2281" width="216" height="133" rx="10"/><text class="ct" transform="translate(1569 2363) scale(.76 1)">RELA</text></g>

<g id="C_CASP3"><rect class="k2" x="61" y="2434" width="216" height="133" rx="10"/><text class="ct" transform="translate(169 2516) scale(.76 1)">CASP3</text></g>
<g id="C_SRC"><rect class="k2" x="294" y="2434" width="216" height="133" rx="10"/><text class="ct" transform="translate(402 2516) scale(.76 1)">SRC</text></g>
<g id="C_AKT1"><rect class="k2" x="528" y="2434" width="216" height="133" rx="10"/><text class="ct" transform="translate(636 2516) scale(.76 1)">AKT1</text></g>
<g id="C_IL1B"><rect class="k2" x="761" y="2434" width="216" height="133" rx="10"/><text class="ct" transform="translate(869 2516) scale(.76 1)">IL1B</text></g>
<g id="C_PTEN"><rect class="k2" x="994" y="2434" width="216" height="133" rx="10"/><text class="ct" transform="translate(1102 2516) scale(.76 1)">PTEN</text></g>
<g id="C_FOS"><rect class="k4" x="1228" y="2434" width="216" height="133" rx="10"/><text class="ct" transform="translate(1336 2516) scale(.76 1)">FOS</text></g>
<g id="C_EGF"><rect class="k4" x="1461" y="2434" width="216" height="133" rx="10"/><text class="ct" transform="translate(1569 2516) scale(.76 1)">EGF</text></g>

<g id="C_TGFB1"><rect class="k4" x="61" y="2587" width="216" height="133" rx="10"/><text class="ct" transform="translate(169 2669) scale(.76 1)">TGFB1</text></g>
<g id="C_STAT1"><rect class="k4" x="294" y="2587" width="216" height="133" rx="10"/><text class="ct" transform="translate(402 2669) scale(.76 1)">STAT1</text></g>
<g id="C_CYCS"><rect class="k6" x="528" y="2587" width="216" height="133" rx="10"/><text class="ct" transform="translate(636 2669) scale(.76 1)">CYCS</text></g>
<g id="C_IL10"><rect class="k6" x="761" y="2587" width="216" height="133" rx="10"/><text class="ct" transform="translate(869 2669) scale(.76 1)">IL10</text></g>
<g id="C_BCL2L1"><rect class="k5" x="994" y="2587" width="216" height="133" rx="10"/><text class="ct" transform="translate(1102 2669) scale(.76 1)">BCL2L1</text></g>
<g id="C_MAPK1"><rect class="k8" x="1228" y="2587" width="216" height="133" rx="10"/><text class="ct" transform="translate(1336 2669) scale(.76 1)">MAPK1</text></g>
<g id="C_IFNG"><rect class="k5" x="1461" y="2587" width="216" height="133" rx="10"/><text class="ct" transform="translate(1569 2669) scale(.76 1)">IFNG</text></g>

<g id="C_MMP2"><rect class="k6" x="61" y="2740" width="216" height="133" rx="10"/><text class="ct" transform="translate(169 2822) scale(.76 1)">MMP2</text></g>
<g id="C_AR"><rect class="k11" x="294" y="2740" width="216" height="133" rx="10"/><text class="ct" transform="translate(402 2822) scale(.76 1)">AR</text></g>
<g id="C_CAV1"><rect class="k10" x="528" y="2740" width="216" height="133" rx="10"/><text class="ct" transform="translate(636 2822) scale(.76 1)">CAV1</text></g>
<g id="C_IL1A"><rect class="k7" x="761" y="2740" width="216" height="133" rx="10"/><text class="ct" transform="translate(869 2822) scale(.76 1)">IL1A</text></g>
<g id="C_ICAM1"><rect class="k8" x="994" y="2740" width="216" height="133" rx="10"/><text class="ct" transform="translate(1102 2822) scale(.76 1)">ICAM1</text></g>
<g id="C_PRKACA"><rect class="k12" x="1228" y="2740" width="216" height="133" rx="10"/><text class="ct" transform="translate(1336 2822) scale(.76 1)">PRKACA</text></g>
<g id="C_TLR4"><rect class="k7" x="1461" y="2740" width="216" height="133" rx="10"/><text class="ct" transform="translate(1569 2822) scale(.76 1)">TLR4</text></g>

<g id="C_ERBB2"><rect class="k9" x="61" y="2893" width="216" height="133" rx="10"/><text class="ct" transform="translate(169 2975) scale(.76 1)">ERBB2</text></g>
<g id="C_NFE2L2"><rect class="k9" x="294" y="2893" width="216" height="133" rx="10"/><text class="ct" transform="translate(402 2975) scale(.76 1)">NFE2L2</text></g>
<g id="C_MDM2"><rect class="k12" x="528" y="2893" width="216" height="133" rx="10"/><text class="ct" transform="translate(636 2975) scale(.76 1)">MDM2</text></g>
<g id="C_APP"><rect class="k10" x="761" y="2893" width="216" height="133" rx="10"/><text class="ct" transform="translate(869 2975) scale(.76 1)">APP</text></g>
<g id="C_IL2"><rect class="k9" x="994" y="2893" width="216" height="133" rx="10"/><text class="ct" transform="translate(1102 2975) scale(.76 1)">IL2</text></g>
<g id="C_CDKN2A"><rect class="k9" x="1228" y="2893" width="216" height="133" rx="10"/><text class="ct" transform="translate(1336 2975) scale(.76 1)">CDKN2A</text></g>
<g id="C_CCL2"><rect class="k8" x="1461" y="2893" width="216" height="133" rx="10"/><text class="ct" transform="translate(1569 2975) scale(.76 1)">CCL2</text></g>

<g id="C_NR3C1"><rect class="k12" x="61" y="3046" width="216" height="133" rx="10"/><text class="ct" transform="translate(169 3128) scale(.76 1)">NR3C1</text></g>
<g id="C_CEBPB"><rect class="k11" x="294" y="3046" width="216" height="133" rx="10"/><text class="ct" transform="translate(402 3128) scale(.76 1)">CEBPB</text></g>
<g id="C_HMOX1"><rect class="k10" x="528" y="3046" width="216" height="133" rx="10"/><text class="ct" transform="translate(636 3128) scale(.76 1)">HMOX1</text></g>
<g id="C_PARP1"><rect class="k11" x="761" y="3046" width="216" height="133" rx="10"/><text class="ct" transform="translate(869 3128) scale(.76 1)">PARP1</text></g>
<g id="C_ESR2"><rect class="k13" x="994" y="3046" width="216" height="133" rx="10"/><text class="ct" transform="translate(1102 3128) scale(.76 1)">ESR2</text></g>
</g>

<!-- Panel D legends -->
<g id="legend-MCODE1"><rect x="2052" y="1855" width="32" height="58" fill="#D91E26"/><text class="mc" font-size="72" transform="translate(2093 1910) scale(.59 1)">MCODE1</text></g>
<g id="legend-MCODE2"><rect x="2854" y="1846" width="32" height="62" fill="#2E7DB7"/><text class="mc" font-size="72" transform="translate(2893 1904) scale(.6 1)">MCODE2</text></g>
<g id="legend-MCODE3"><rect x="2009" y="2720" width="39" height="41" fill="#44A543"/><text class="mc" font-size="58" transform="translate(2060 2760) scale(.95 1)">MCODE3</text></g>
<g id="legend-MCODE4"><rect x="2845" y="2745" width="43" height="46" fill="#8E4B9A"/><text class="mc" font-size="62" transform="translate(2897 2789) scale(.92 1)">MCODE4</text></g>

<!-- Panel D edges -->
<g id="edges">
<line class="e3" x1="2033" y1="2053" x2="2217" y2="2050"/>
<line class="e1" x1="2033" y1="2053" x2="2116" y2="2123"/>
<line class="e1" x1="2033" y1="2053" x2="1962" y2="2189"/>
<line class="e1" x1="2033" y1="2053" x2="2053" y2="2266"/>
<line class="ed" x1="2033" y1="2053" x2="2262" y2="2355"/>
<line class="e1" x1="2033" y1="2053" x2="2360" y2="2115"/>
<line class="e1" x1="2033" y1="2053" x2="1985" y2="2384"/>
<line class="e1" x1="2033" y1="2053" x2="2163" y2="2429"/>
<line class="e1" x1="2033" y1="2053" x2="2176" y2="2192"/>
<line class="e1" x1="2033" y1="2053" x2="1947" y2="2454"/>
<line class="e1" x1="2217" y1="2050" x2="2116" y2="2123"/>
<line class="e3" x1="2217" y1="2050" x2="1962" y2="2189"/>
<line class="e1" x1="2217" y1="2050" x2="2176" y2="2192"/>
<line class="e1" x1="2217" y1="2050" x2="2221" y2="2249"/>
<line class="e1" x1="2217" y1="2050" x2="2362" y2="2300"/>
<line class="e1" x1="2217" y1="2050" x2="2262" y2="2355"/>
<line class="e2" x1="2217" y1="2050" x2="2360" y2="2115"/>
<line class="e1" x1="2217" y1="2050" x2="2385" y2="2420"/>
<line class="e2" x1="2217" y1="2050" x2="2053" y2="2266"/>
<line class="e1" x1="2217" y1="2050" x2="1985" y2="2384"/>
<line class="e1" x1="2217" y1="2050" x2="2163" y2="2429"/>
<line class="e1" x1="2217" y1="2050" x2="1947" y2="2454"/>
<line class="e1" x1="2116" y1="2123" x2="1962" y2="2189"/>
<line class="e1" x1="2116" y1="2123" x2="2176" y2="2192"/>
<line class="e1" x1="2116" y1="2123" x2="2053" y2="2266"/>
<line class="e1" x1="2116" y1="2123" x2="1985" y2="2384"/>
<line class="e1" x1="2116" y1="2123" x2="2163" y2="2429"/>
<line class="e2" x1="2116" y1="2123" x2="2360" y2="2115"/>
<line class="e1" x1="2116" y1="2123" x2="2262" y2="2355"/>
<line class="e1" x1="2116" y1="2123" x2="1947" y2="2454"/>
<line class="e2" x1="2360" y1="2115" x2="1962" y2="2189"/>
<line class="e1" x1="2360" y1="2115" x2="2362" y2="2300"/>
<line class="e1" x1="2360" y1="2115" x2="2163" y2="2429"/>
<line class="e1" x1="2360" y1="2115" x2="1985" y2="2384"/>
<line class="e3" x1="1962" y1="2189" x2="2176" y2="2192"/>
<line class="e1" x1="1962" y1="2189" x2="2053" y2="2266"/>
<line class="e1" x1="1962" y1="2189" x2="1893" y2="2303"/>
<line class="e1" x1="1962" y1="2189" x2="1985" y2="2384"/>
<line class="e1" x1="1962" y1="2189" x2="1947" y2="2454"/>
<line class="e1" x1="1962" y1="2189" x2="2163" y2="2429"/>
<line class="e1" x1="1962" y1="2189" x2="2221" y2="2249"/>
<line class="e1" x1="1962" y1="2189" x2="2362" y2="2300"/>
<line class="e1" x1="1962" y1="2189" x2="2262" y2="2355"/>
<line class="e1" x1="1962" y1="2189" x2="2270" y2="2499"/>
<line class="e2" x1="2176" y1="2192" x2="2053" y2="2266"/>
<line class="e1" x1="2176" y1="2192" x2="2221" y2="2249"/>
<line class="e1" x1="2176" y1="2192" x2="2362" y2="2300"/>
<line class="e1" x1="2176" y1="2192" x2="2262" y2="2355"/>
<line class="e1" x1="2176" y1="2192" x2="2163" y2="2429"/>
<line class="e1" x1="2176" y1="2192" x2="1985" y2="2384"/>
<line class="e1" x1="2176" y1="2192" x2="1947" y2="2454"/>
<line class="e1" x1="2176" y1="2192" x2="2385" y2="2420"/>
<line class="e1" x1="2176" y1="2192" x2="2047" y2="2524"/>
<line class="e3" x1="2221" y1="2249" x2="2442" y2="2242"/>
<line class="e2" x1="2221" y1="2249" x2="2362" y2="2300"/>
<line class="e2" x1="2221" y1="2249" x2="2053" y2="2266"/>
<line class="e1" x1="2221" y1="2249" x2="2262" y2="2355"/>
<line class="e1" x1="2221" y1="2249" x2="2163" y2="2429"/>
<line class="e1" x1="2221" y1="2249" x2="2270" y2="2499"/>
<line class="e1" x1="2221" y1="2249" x2="1985" y2="2384"/>
<line class="e1" x1="2221" y1="2249" x2="2385" y2="2420"/>
<line class="e1" x1="2221" y1="2249" x2="1947" y2="2454"/>
<line class="e1" x1="2221" y1="2249" x2="2047" y2="2524"/>
<line class="e2" x1="2442" y1="2242" x2="2362" y2="2300"/>
<line class="e1" x1="2442" y1="2242" x2="2163" y2="2429"/>
<line class="e1" x1="2442" y1="2242" x2="2270" y2="2499"/>
<line class="e1" x1="2053" y1="2266" x2="1893" y2="2303"/>
<line class="e2" x1="2053" y1="2266" x2="2362" y2="2300"/>
<line class="e1" x1="2053" y1="2266" x2="1985" y2="2384"/>
<line class="e2" x1="2053" y1="2266" x2="2163" y2="2429"/>
<line class="e1" x1="2053" y1="2266" x2="1947" y2="2454"/>
<line class="e1" x1="2053" y1="2266" x2="2270" y2="2499"/>
<line class="e1" x1="2053" y1="2266" x2="2262" y2="2355"/>
<line class="e1" x1="2053" y1="2266" x2="2047" y2="2524"/>
<line class="e1" x1="2053" y1="2266" x2="2185" y2="2569"/>
<line class="e1" x1="2053" y1="2266" x2="2385" y2="2420"/>
<line class="e1" x1="1893" y1="2303" x2="1985" y2="2384"/>
<line class="e1" x1="1893" y1="2303" x2="1947" y2="2454"/>
<line class="e1" x1="1893" y1="2303" x2="2163" y2="2429"/>
<line class="e1" x1="1893" y1="2303" x2="2047" y2="2524"/>
<line class="e1" x1="1893" y1="2303" x2="2270" y2="2499"/>
<line class="e1" x1="1893" y1="2303" x2="2262" y2="2355"/>
<line class="e1" x1="2362" y1="2300" x2="2262" y2="2355"/>
<line class="e1" x1="2362" y1="2300" x2="2163" y2="2429"/>
<line class="e1" x1="2362" y1="2300" x2="2385" y2="2420"/>
<line class="e2" x1="2362" y1="2300" x2="2270" y2="2499"/>
<line class="e1" x1="2362" y1="2300" x2="1947" y2="2454"/>
<line class="e1" x1="2362" y1="2300" x2="1985" y2="2384"/>
<line class="e1" x1="2362" y1="2300" x2="2185" y2="2569"/>
<line class="e2" x1="2262" y1="2355" x2="1985" y2="2384"/>
<line class="e3" x1="2262" y1="2355" x2="2163" y2="2429"/>
<line class="e1" x1="2262" y1="2355" x2="2385" y2="2420"/>
<line class="e1" x1="2262" y1="2355" x2="1947" y2="2454"/>
<line class="e1" x1="2262" y1="2355" x2="2270" y2="2499"/>
<line class="e1" x1="2262" y1="2355" x2="2047" y2="2524"/>
<line class="e1" x1="2262" y1="2355" x2="2185" y2="2569"/>
<line class="e3" x1="1985" y1="2384" x2="2163" y2="2429"/>
<line class="e1" x1="1985" y1="2384" x2="1947" y2="2454"/>
<line class="e1" x1="1985" y1="2384" x2="2047" y2="2524"/>
<line class="e1" x1="1985" y1="2384" x2="2270" y2="2499"/>
<line class="e1" x1="1985" y1="2384" x2="2385" y2="2420"/>
<line class="e2" x1="2163" y1="2429" x2="2385" y2="2420"/>
<line class="e1" x1="2163" y1="2429" x2="1947" y2="2454"/>
<line class="e2" x1="2163" y1="2429" x2="2270" y2="2499"/>
<line class="e1" x1="2163" y1="2429" x2="2047" y2="2524"/>
<line class="e1" x1="2163" y1="2429" x2="2185" y2="2569"/>
<line class="e1" x1="2385" y1="2420" x2="2270" y2="2499"/>
<line class="e3" x1="1947" y1="2454" x2="2270" y2="2499"/>
<line class="e1" x1="1947" y1="2454" x2="2047" y2="2524"/>
<line class="e1" x1="1947" y1="2454" x2="2185" y2="2569"/>
<line class="e1" x1="2270" y1="2499" x2="2047" y2="2524"/>
<line class="e1" x1="2270" y1="2499" x2="2185" y2="2569"/>
<line class="e3" x1="2047" y1="2524" x2="2185" y2="2569"/>

<line class="e2" x1="2807" y1="2040" x2="2955" y2="2088"/>
<line class="e2" x1="2807" y1="2040" x2="3111" y2="2103"/>
<line class="e1" x1="2807" y1="2040" x2="2746" y2="2145"/>
<line class="e1" x1="2807" y1="2040" x2="2771" y2="2287"/>
<line class="e1" x1="2807" y1="2040" x2="2882" y2="2210"/>
<line class="e1" x1="2807" y1="2040" x2="3038" y2="2234"/>
<line class="e1" x1="2807" y1="2040" x2="2923" y2="2357"/>
<line class="e2" x1="2955" y1="2088" x2="3111" y2="2103"/>
<line class="e2" x1="2955" y1="2088" x2="2746" y2="2145"/>
<line class="e1" x1="2955" y1="2088" x2="2882" y2="2210"/>
<line class="ed" x1="2955" y1="2088" x2="3038" y2="2234"/>
<line class="e1" x1="2955" y1="2088" x2="2771" y2="2287"/>
<line class="e1" x1="2955" y1="2088" x2="2923" y2="2357"/>
<line class="e1" x1="2955" y1="2088" x2="3092" y2="2325"/>
<line class="e1" x1="2955" y1="2088" x2="3231" y2="2192"/>
<line class="e2" x1="3111" y1="2103" x2="2882" y2="2210"/>
<line class="e1" x1="3111" y1="2103" x2="3038" y2="2234"/>
<line class="e1" x1="3111" y1="2103" x2="2923" y2="2357"/>
<line class="e1" x1="3111" y1="2103" x2="3092" y2="2325"/>
<line class="e2" x1="3111" y1="2103" x2="2771" y2="2287"/>
<line class="e2" x1="3111" y1="2103" x2="3231" y2="2192"/>
<line class="e1" x1="3111" y1="2103" x2="3190" y2="2360"/>
<line class="e2" x1="2746" y1="2145" x2="2882" y2="2210"/>
<line class="e2" x1="2746" y1="2145" x2="3038" y2="2234"/>
<line class="e1" x1="2746" y1="2145" x2="2771" y2="2287"/>
<line class="e1" x1="2746" y1="2145" x2="2923" y2="2357"/>
<line class="e1" x1="2746" y1="2145" x2="2841" y2="2457"/>
<line class="e2" x1="3231" y1="2192" x2="2882" y2="2210"/>
<line class="e1" x1="3231" y1="2192" x2="3038" y2="2234"/>
<line class="e1" x1="3231" y1="2192" x2="2923" y2="2357"/>
<line class="e1" x1="3231" y1="2192" x2="3092" y2="2325"/>
<line class="e1" x1="3231" y1="2192" x2="3190" y2="2360"/>
<line class="e3" x1="2882" y1="2210" x2="3038" y2="2234"/>
<line class="e1" x1="2882" y1="2210" x2="2923" y2="2357"/>
<line class="e2" x1="2882" y1="2210" x2="3092" y2="2325"/>
<line class="e2" x1="2882" y1="2210" x2="2771" y2="2287"/>
<line class="e1" x1="2882" y1="2210" x2="3190" y2="2360"/>
<line class="e2" x1="3038" y1="2234" x2="2923" y2="2357"/>
<line class="e2" x1="3038" y1="2234" x2="2771" y2="2287"/>
<line class="e1" x1="3038" y1="2234" x2="3092" y2="2325"/>
<line class="e1" x1="3038" y1="2234" x2="3190" y2="2360"/>
<line class="e1" x1="3038" y1="2234" x2="2841" y2="2457"/>
<line class="e2" x1="2771" y1="2287" x2="2923" y2="2357"/>
<line class="e1" x1="2771" y1="2287" x2="3092" y2="2325"/>
<line class="e1" x1="2771" y1="2287" x2="2841" y2="2457"/>
<line class="e2" x1="2923" y1="2357" x2="3092" y2="2325"/>
<line class="e2" x1="2923" y1="2357" x2="3190" y2="2360"/>
<line class="e1" x1="2923" y1="2357" x2="2841" y2="2457"/>
<line class="ed" x1="2923" y1="2357" x2="3027" y2="2459"/>
<line class="e1" x1="2923" y1="2357" x2="3120" y2="2552"/>
<line class="e1" x1="2923" y1="2357" x2="2965" y2="2642"/>
<line class="e2" x1="3092" y1="2325" x2="3190" y2="2360"/>
<line class="e1" x1="3092" y1="2325" x2="2841" y2="2457"/>
<line class="e1" x1="3092" y1="2325" x2="3027" y2="2459"/>
<line class="e1" x1="3092" y1="2325" x2="3120" y2="2552"/>
<line class="e1" x1="3092" y1="2325" x2="2965" y2="2642"/>
<line class="e1" x1="3190" y1="2360" x2="2841" y2="2457"/>
<line class="e1" x1="3190" y1="2360" x2="3027" y2="2459"/>
<line class="e3" x1="2841" y1="2457" x2="3027" y2="2459"/>
<line class="e2" x1="2841" y1="2457" x2="3120" y2="2552"/>
<line class="e1" x1="2841" y1="2457" x2="2965" y2="2642"/>
<line class="ed" x1="3027" y1="2459" x2="3120" y2="2552"/>
<line class="e1" x1="3027" y1="2459" x2="2965" y2="2642"/>
<line class="e2" x1="3120" y1="2552" x2="2965" y2="2642"/>

<line class="e3" x1="1957" y1="2880" x2="2149" y2="2946"/>
<line class="e3" x1="2149" y1="2946" x2="2321" y2="2975"/>
<line class="e1" x1="1957" y1="2880" x2="1932" y2="3114"/>
<line class="e3" x1="1932" y1="3114" x2="2135" y2="3123"/>
<line class="e2" x1="2135" y1="3123" x2="2321" y2="2975"/>
<line class="e1" x1="2149" y1="2946" x2="2276" y2="3172"/>
<line class="e1" x1="2321" y1="2975" x2="2276" y2="3172"/>

<line class="e3" x1="2751" y1="2946" x2="2951" y2="3020"/>
<line class="e3" x1="2951" y1="3020" x2="3190" y2="3043"/>
<line class="e3" x1="3190" y1="3043" x2="3379" y2="3101"/>
<line class="e2" x1="3190" y1="3043" x2="3317" y2="2887"/>
<line class="e1" x1="3317" y1="2887" x2="3379" y2="3101"/>
<line class="e1" x1="2751" y1="2946" x2="2848" y2="3140"/>
<line class="e2" x1="2951" y1="3020" x2="2848" y2="3140"/>
</g>

<!-- MCODE1 nodes -->
<g id="D_IL1B"><ellipse class="n1" cx="2033" cy="2053" rx="24" ry="28"/><text class="dl" transform="translate(2058 2063) scale(.88 1)">IL1B</text></g>
<g id="D_PTGS2"><ellipse class="n1" cx="2217" cy="2050" rx="26" ry="30"/><text class="dl" transform="translate(2244 2060) scale(.88 1)">PTGS2</text></g>
<g id="D_IL10"><ellipse class="n1" cx="2116" cy="2123" rx="20" ry="23"/><text class="dl" transform="translate(2137 2133) scale(.88 1)">IL10</text></g>
<g id="D_IL2"><ellipse class="n1" cx="2360" cy="2115" rx="20" ry="23"/><text class="dl" transform="translate(2381 2125) scale(.88 1)">IL2</text></g>
<g id="D_RELA"><ellipse class="n1" cx="1962" cy="2189" rx="29" ry="34"/><text class="dl" transform="translate(1992 2199) scale(.88 1)">RELA</text></g>
<g id="D_PPARG"><ellipse class="n1" cx="2176" cy="2192" rx="29" ry="34"/><text class="dl" transform="translate(2206 2202) scale(.88 1)">PPARG</text></g>
<g id="D_SRC"><ellipse class="n1" cx="2221" cy="2249" rx="25" ry="29"/><text class="dl" transform="translate(2247 2259) scale(.88 1)">SRC</text></g>
<g id="D_ERBB2"><ellipse class="n1" cx="2442" cy="2242" rx="18" ry="21"/><text class="dl" transform="translate(2461 2252) scale(.88 1)">ERBB2</text></g>
<g id="D_MAPK3"><ellipse class="n1" cx="2053" cy="2266" rx="26" ry="30"/><text class="dl" transform="translate(2080 2276) scale(.88 1)">MAPK3</text></g>
<g id="D_PARP1"><ellipse class="n1" cx="1893" cy="2303" rx="20" ry="23"/><text class="dl" transform="translate(1914 2313) scale(.88 1)">PARP1</text></g>
<g id="D_EGFR"><ellipse class="n1" cx="2362" cy="2300" rx="28" ry="32"/><text class="dl" transform="translate(2391 2310) scale(.88 1)">EGFR</text></g>
<g id="D_NR3C1"><ellipse class="n1" cx="2262" cy="2355" rx="26" ry="30"/><text class="dl" transform="translate(2289 2365) scale(.88 1)">NR3C1</text></g>
<g id="D_NFKB1"><ellipse class="n1" cx="1985" cy="2384" rx="22" ry="25"/><text class="dl" transform="translate(2008 2394) scale(.88 1)">NFKB1</text></g>
<g id="D_TP53"><ellipse class="n1" cx="2163" cy="2429" rx="30" ry="35"/><text class="dl" transform="translate(2194 2439) scale(.88 1)">TP53</text></g>
<g id="D_ACTB"><ellipse class="n1" cx="2385" cy="2420" rx="21" ry="24"/><text class="dl" transform="translate(2407 2430) scale(.88 1)">ACTB</text></g>
<g id="D_MAPK1"><ellipse class="n1" cx="1947" cy="2454" rx="27" ry="31"/><text class="dl" transform="translate(1975 2464) scale(.88 1)">MAPK1</text></g>
<g id="D_AKT1"><ellipse class="n1" cx="2270" cy="2499" rx="25" ry="29"/><text class="dl" transform="translate(2296 2509) scale(.88 1)">AKT1</text></g>
<g id="D_MDM2"><ellipse class="n1" cx="2047" cy="2524" rx="22" ry="25"/><text class="dl" transform="translate(2070 2534) scale(.88 1)">MDM2</text></g>
<g id="D_MYC"><ellipse class="n1" cx="2185" cy="2569" rx="21" ry="24"/><text class="dl" transform="translate(2207 2579) scale(.88 1)">MYC</text></g>

<!-- MCODE2 nodes -->
<g id="D2_PRKACA"><ellipse class="n2" cx="2807" cy="2040" rx="18" ry="21"/><text class="dl" transform="translate(2826 2050) scale(.88 1)">PRKACA</text></g>
<g id="D2_AR"><ellipse class="n2" cx="2955" cy="2088" rx="21" ry="24"/><text class="dl" transform="translate(2977 2098) scale(.88 1)">AR</text></g>
<g id="D2_BCL2"><ellipse class="n2" cx="3111" cy="2103" rx="21" ry="24"/><text class="dl" transform="translate(3133 2113) scale(.88 1)">BCL2</text></g>
<g id="D2_HIF1A"><ellipse class="n2" cx="2746" cy="2145" rx="20" ry="23"/><text class="dl" transform="translate(2767 2155) scale(.88 1)">HIF1A</text></g>
<g id="D2_EGF"><ellipse class="n2" cx="3231" cy="2192" rx="19" ry="22"/><text class="dl" transform="translate(3251 2202) scale(.88 1)">EGF</text></g>
<g id="D2_ESR1"><ellipse class="n2" cx="2882" cy="2210" rx="26" ry="30"/><text class="dl" transform="translate(2909 2220) scale(.88 1)">ESR1</text></g>
<g id="D2_HSP90AA1"><ellipse class="n2" cx="3038" cy="2234" rx="26" ry="30"/><text class="dl" transform="translate(3065 2244) scale(.88 1)">HSP90AA1</text></g>
<g id="D2_CCND1"><ellipse class="n2" cx="2771" cy="2287" rx="22" ry="25"/><text class="dl" transform="translate(2794 2297) scale(.88 1)">CCND1</text></g>
<g id="D2_IL6"><ellipse class="n2" cx="3092" cy="2325" rx="23" ry="27"/><text class="dl" transform="translate(3116 2335) scale(.88 1)">IL6</text></g>
<g id="D2_STAT3"><ellipse class="n2" cx="2923" cy="2357" rx="34" ry="38"/><text class="dl" transform="translate(2958 2367) scale(.88 1)">STAT3</text></g>
<g id="D2_STAT1"><ellipse class="n2" cx="3190" cy="2360" rx="21" ry="24"/><text class="dl" transform="translate(3212 2370) scale(.88 1)">STAT1</text></g>
<g id="D2_TNF"><ellipse class="n2" cx="2841" cy="2457" rx="21" ry="24"/><text class="dl" transform="translate(2863 2467) scale(.88 1)">TNF</text></g>
<g id="D2_IFNG"><ellipse class="n2" cx="3027" cy="2459" rx="21" ry="24"/><text class="dl" transform="translate(3049 2469) scale(.88 1)">IFNG</text></g>
<g id="D2_CCL2"><ellipse class="n2" cx="3120" cy="2552" rx="19" ry="22"/><text class="dl" transform="translate(3140 2562) scale(.88 1)">CCL2</text></g>
<g id="D2_IL1A"><ellipse class="n2" cx="2965" cy="2642" rx="18" ry="21"/><text class="dl" transform="translate(2984 2652) scale(.88 1)">IL1A</text></g>

<!-- MCODE3 nodes -->
<g id="D3_GSK3B"><ellipse class="n3" cx="1957" cy="2880" rx="15" ry="19"/><text class="dl" transform="translate(1973 2889) scale(.88 1)">GSK3B</text></g>
<g id="D3_CAV1"><ellipse class="n3" cx="2149" cy="2946" rx="15" ry="19"/><text class="dl" transform="translate(2165 2955) scale(.88 1)">CAV1</text></g>
<g id="D3_PTEN"><ellipse class="n3" cx="2321" cy="2975" rx="15" ry="19"/><text class="dl" transform="translate(2337 2984) scale(.88 1)">PTEN</text></g>
<g id="D3_NFE2L2"><ellipse class="n3" cx="1932" cy="3114" rx="15" ry="19"/><text class="dl" transform="translate(1948 3123) scale(.88 1)">NFE2L2</text></g>
<g id="D3_CDKN2A"><ellipse class="n3" cx="2135" cy="3123" rx="15" ry="19"/><text class="dl" transform="translate(2151 3132) scale(.88 1)">CDKN2A</text></g>
<g id="D3_INS"><ellipse class="n3" cx="2276" cy="3172" rx="15" ry="19"/><text class="dl" transform="translate(2292 3181) scale(.88 1)">INS</text></g>

<!-- MCODE4 nodes -->
<g id="D4_TGFB1"><ellipse class="n4" cx="3317" cy="2887" rx="15" ry="19"/><text class="dl" transform="translate(3333 2896) scale(.88 1)">TGFB1</text></g>
<g id="D4_CYCS"><ellipse class="n4" cx="2751" cy="2946" rx="15" ry="19"/><text class="dl" transform="translate(2767 2955) scale(.88 1)">CYCS</text></g>
<g id="D4_CASP3"><ellipse class="n4" cx="2951" cy="3020" rx="15" ry="19"/><text class="dl" transform="translate(2967 3029) scale(.88 1)">CASP3</text></g>
<g id="D4_APP"><ellipse class="n4" cx="3190" cy="3043" rx="15" ry="19"/><text class="dl" transform="translate(3206 3052) scale(.88 1)">APP</text></g>
<g id="D4_MMP9"><ellipse class="n4" cx="3379" cy="3101" rx="15" ry="19"/><text class="dl" transform="translate(3395 3110) scale(.88 1)">MMP9</text></g>
<g id="D4_BCL2L1"><ellipse class="n4" cx="2848" cy="3140" rx="15" ry="19"/><text class="dl" transform="translate(2864 3149) scale(.88 1)">BCL2L1</text></g>
</svg>
